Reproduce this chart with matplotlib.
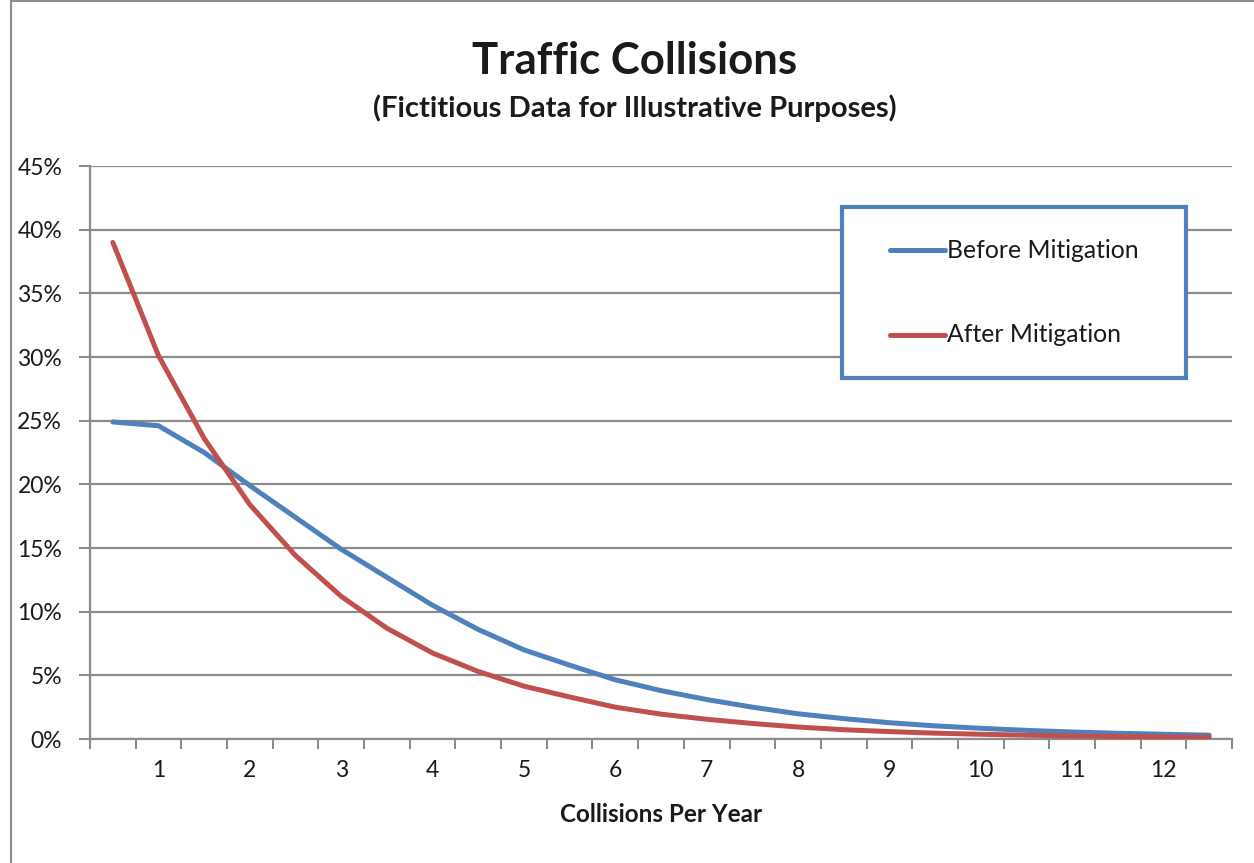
"""Traffic collisions before/after mitigation, Excel-style line chart"""
import matplotlib
matplotlib.use("Agg")
import matplotlib.pyplot as plt
from matplotlib.patches import Rectangle
from matplotlib.lines import Line2D
from matplotlib.ticker import FuncFormatter

plt.rcParams['font.family'] = ['Lato', 'DejaVu Sans']

# categories (collisions per year)
COLLISIONS = [0.5, 1, 1.5, 2, 2.5, 3, 3.5, 4, 4.5, 5, 5.5, 6, 6.5,
              7, 7.5, 8, 8.5, 9, 9.5, 10, 10.5, 11, 11.5, 12, 12.5]
BEFORE = [24.9, 24.6, 22.5, 19.9, 17.4, 14.9, 12.7, 10.5, 8.6, 7.0, 5.8, 4.65,
          3.8, 3.1, 2.5, 1.98, 1.6, 1.28, 1.03, 0.84, 0.68, 0.55, 0.45, 0.37, 0.3]
AFTER = [39.0, 30.1, 23.6, 18.4, 14.4, 11.2, 8.7, 6.75, 5.3, 4.15, 3.3, 2.5,
         1.95, 1.55, 1.22, 0.94, 0.73, 0.58, 0.46, 0.37, 0.3, 0.24, 0.2, 0.16, 0.13]
SERIES_NAMES = ["Before Mitigation", "After Mitigation"]
X_LABELS = [1, 2, 3, 4, 5, 6, 7, 8, 9, 10, 11, 12]
Y_TICKS = [0, 5, 10, 15, 20, 25, 30, 35, 40, 45]

BLUE = "#4f81bd"
RED = "#c0504d"
GRID = "#8c8c8c"
TEXT = "#1a1a1a"

W, H = 1254, 863
fig = plt.figure(figsize=(W / 100, H / 100), dpi=100)

# chart area border (left and top edges visible)
fig.patches.append(Rectangle((11 / W, -0.01), 1.05, 1 - 1.5 / H + 0.01,
                             transform=fig.transFigure, fill=False,
                             edgecolor=GRID, linewidth=1.5))

ax = fig.add_axes([90 / W, (H - 739) / H, (1232 - 90) / W, (739 - 166) / H])

ax.plot(COLLISIONS, BEFORE, color=BLUE, lw=3.6, solid_capstyle='round',
        solid_joinstyle='round', zorder=3)
ax.plot(COLLISIONS, AFTER, color=RED, lw=3.6, solid_capstyle='round',
        solid_joinstyle='round', zorder=3)

ax.set_xlim(0.25, 12.75)
ax.set_ylim(0, 45)

# category boundaries get the tick marks, labels sit on the integers
bounds = [c - 0.25 for c in COLLISIONS] + [COLLISIONS[-1] + 0.25]
ax.set_xticks(bounds)
ax.set_xticklabels([])
ax.tick_params(axis='x', which='major', direction='out', length=7, width=1.5,
               color=GRID)
ax.set_xticks(X_LABELS, minor=True)
ax.set_xticklabels([str(v) for v in X_LABELS], minor=True)
ax.tick_params(axis='x', which='minor', length=0, pad=15, labelsize=16.5,
               labelcolor=TEXT)

ax.set_yticks(Y_TICKS)
ax.yaxis.set_major_formatter(FuncFormatter(lambda v, _: f"{v:.0f}%"))
ax.tick_params(axis='y', direction='out', length=8, width=1.5, color=GRID,
               pad=12, labelsize=16.5, labelcolor=TEXT)

ax.grid(axis='y', color=GRID, lw=1.6)
ax.set_axisbelow(True)
for side in ('top', 'right'):
    ax.spines[side].set_visible(False)
for side in ('left', 'bottom'):
    ax.spines[side].set_color(GRID)
    ax.spines[side].set_linewidth(1.6)

ax.set_xlabel("Collisions Per Year", fontsize=17.5, fontweight='bold',
              color=TEXT, labelpad=16)

fig.text(635 / W, 1 - 61 / H, "Traffic Collisions", ha='center', va='center',
         fontsize=31.5, fontweight='bold', color=TEXT)
fig.text(635 / W, 1 - 108 / H, "(Fictitious Data for Illustrative Purposes)",
         ha='center', va='center', fontsize=21, fontweight='bold', color=TEXT)

# legend box drawn like the Excel one
ax.add_patch(Rectangle((0.6585, 0.6300), 0.9597 - 0.6585, 0.9284 - 0.6300,
                       transform=ax.transAxes, facecolor='white',
                       edgecolor=BLUE, linewidth=3, zorder=5))
for name, color, yy in zip(SERIES_NAMES, [BLUE, RED], [0.8534, 0.7051]):
    ax.add_line(Line2D([0.7005, 0.7487], [yy, yy], transform=ax.transAxes,
                       color=color, lw=3.6, solid_capstyle='round', zorder=6))
    ax.text(0.7505, yy, name, transform=ax.transAxes, va='center', ha='left',
            fontsize=17.8, color=TEXT, zorder=6)

fig.savefig("out.png", dpi=100)
